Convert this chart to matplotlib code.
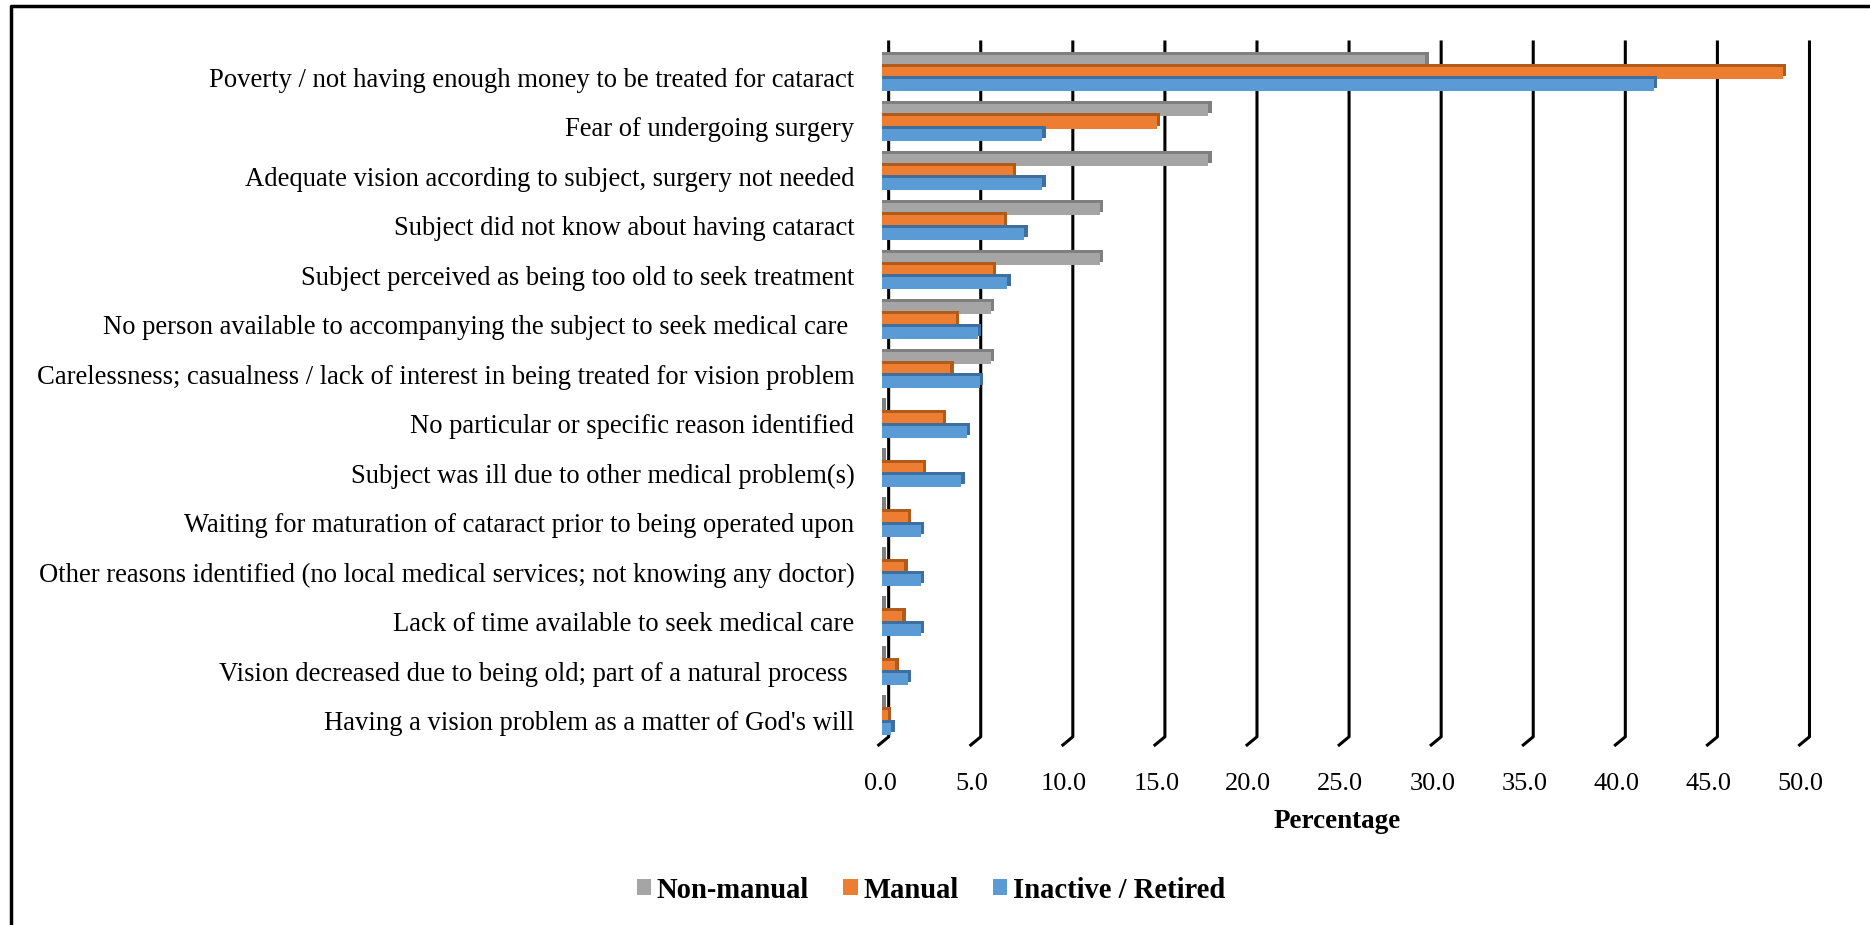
import matplotlib.pyplot as plt
import numpy as np
from matplotlib.patches import Patch
from matplotlib.lines import Line2D

plt.rcParams['font.family'] = ['Liberation Serif', 'DejaVu Serif']

# data
reasons = [
    "Poverty / not having enough money to be treated for cataract",
    "Fear of undergoing surgery",
    "Adequate vision according to subject, surgery not needed",
    "Subject did not know about having cataract",
    "Subject perceived as being too old to seek treatment",
    "No person available to accompanying the subject to seek medical care ",
    "Carelessness; casualness / lack of interest in being treated for vision problem",
    "No particular or specific reason identified",
    "Subject was ill due to other medical problem(s)",
    "Waiting for maturation of cataract prior to being operated upon",
    "Other reasons identified (no local medical services; not knowing any doctor)",
    "Lack of time available to seek medical care",
    "Vision decreased due to being old; part of a natural process ",
    "Having a vision problem as a matter of God's will",
]
non_manual = [29.5, 17.7, 17.7, 11.8, 11.8, 5.9, 5.9, 0, 0, 0, 0, 0, 0, 0]
manual = [48.9, 14.9, 7.1, 6.6, 6.0, 4.0, 3.7, 3.3, 2.2, 1.4, 1.2, 1.1, 0.7, 0.3]
inactive = [41.9, 8.7, 8.7, 7.7, 6.8, 5.2, 5.3, 4.6, 4.3, 2.1, 2.1, 2.1, 1.4, 0.5]
series_names = ["Non-manual", "Manual", "Inactive / Retired"]
x_ticks = np.arange(0, 50.1, 5)

colors = ['#A5A5A5', '#ED7D31', '#5B9BD5']
shades = ['#7F7F7F', '#B05A1C', '#3F6F9E']

W, H = 1870, 925
fig = plt.figure(figsize=(W / 100, H / 100), dpi=100)

# axes placed in pixel terms to match the reference
px_per_unit = 18.46
ax_left, ax_right, ax_top, ax_bot = 880, 1818, 42, 745
ax = fig.add_axes([ax_left / W, 1 - ax_bot / H, (ax_right - ax_left) / W, (ax_bot - ax_top) / H])
ax.set_xlim(0, (ax_right - ax_left) / px_per_unit)
y_top, y_back, y_front = -0.626, 13.41, 13.576
ax.set_ylim(y_front, y_top)

# back-wall gridlines with a small floor step (3D look)
for v in x_ticks:
    ax.plot([v + 0.35, v + 0.35, v - 0.19], [y_top, y_back, y_front],
            color='black', lw=2.2, clip_on=False, zorder=1)

y = np.arange(len(reasons))
h = 0.245
dx, dy = 0.19, 0.06
z = 2
for k, vals in enumerate([non_manual, manual, inactive]):
    off = (k - 1) * h
    ax.barh(y + off - dy, np.array(vals) + dx, height=h, color=shades[k], zorder=z)
    ax.barh(y + off, vals, height=h, color=colors[k], zorder=z + 1)
    z += 2

for s in ax.spines.values():
    s.set_visible(False)

ax.set_yticks(y + 0.09)
ax.set_yticklabels(reasons, fontsize=19.2)
ax.tick_params(axis='y', length=0, pad=18.5)
ax.set_xticks(x_ticks - 0.12)
ax.set_xticklabels([f'{v:.1f}' for v in x_ticks], fontsize=19)
ax.tick_params(axis='x', length=0, pad=20)

fig.text(1337 / W, 1 - 822 / H, 'Percentage', ha='center', va='center',
         fontsize=19.5, fontweight='bold')

handles = [Patch(facecolor=c, edgecolor='none') for c in colors]
fig.legend(handles, series_names, loc='center', bbox_to_anchor=(931 / W, 1 - 890 / H),
           ncol=3, frameon=False, prop={'size': 20.6, 'weight': 'bold'},
           handlelength=0.5, handleheight=0.5, handletextpad=0.2, columnspacing=1.2)

# outer border: top and left edges only
fig.add_artist(Line2D([11 / W, 11 / W, 1.0], [0.0, 1 - 6 / H, 1 - 6 / H],
                      transform=fig.transFigure, color='black', lw=2.5))

fig.savefig('out.png', dpi=100)
